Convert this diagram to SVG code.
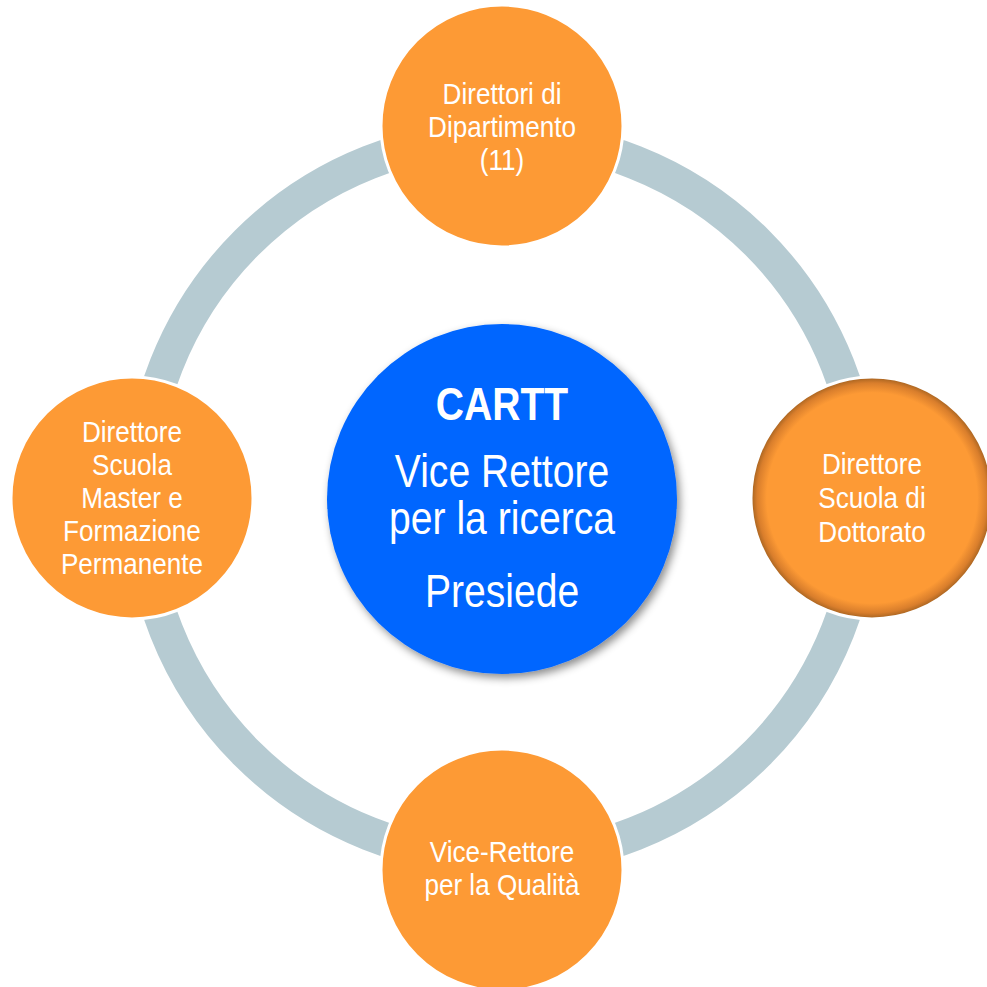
<svg xmlns="http://www.w3.org/2000/svg" width="987" height="987" viewBox="0 0 987 987">
  <defs>
    <style>
      .ring { fill: none; stroke: #B6CBD2; stroke-width: 34; }
      .orange { fill: #FD9A35; stroke: #FFFFFF; stroke-width: 3; }
      .lbl { font-family: "Liberation Sans", Arial, sans-serif; fill: #FFFFFF; text-anchor: middle; }
      .small { font-size: 30px; }
      .big { font-size: 46px; }
      .bold { font-weight: bold; }
    </style>
    <radialGradient id="innerShadow" cx="0.5" cy="0.5" r="0.5">
      <stop offset="0" stop-color="#FD9A35"/>
      <stop offset="0.87" stop-color="#FD9A35"/>
      <stop offset="0.95" stop-color="#D97E2C"/>
      <stop offset="1" stop-color="#A0601F"/>
    </radialGradient>
    <filter id="shadow" x="-20%" y="-20%" width="140%" height="140%">
      <feDropShadow dx="3" dy="4" stdDeviation="4" flood-color="#000000" flood-opacity="0.45"/>
    </filter>
  </defs>
  <rect width="987" height="987" fill="#FFFFFF"/>

  <g id="connectors">
    <path class="ring" d="M 502 137 A 361 361 0 0 1 863 498"/>
    <path class="ring" d="M 863 498 A 361 361 0 0 1 502 859"/>
    <path class="ring" d="M 502 859 A 361 361 0 0 1 141 498"/>
    <path class="ring" d="M 141 498 A 361 361 0 0 1 502 137"/>
  </g>

  <g id="node-center">
    <circle cx="502" cy="499" r="175" fill="#0066FF" filter="url(#shadow)"/>
    <g transform="translate(502 0) scale(0.85 1)">
      <text class="lbl big bold" x="0" y="420">CARTT</text>
      <text class="lbl big" x="0" y="487">Vice Rettore</text>
      <text class="lbl big" x="0" y="534">per la ricerca</text>
      <text class="lbl big" x="0" y="607">Presiede</text>
    </g>
  </g>

  <g id="node-top">
    <circle class="orange" cx="502" cy="126" r="121"/>
    <g transform="translate(502 0) scale(0.87 1)">
      <text class="lbl small" x="0" y="104">Direttori di</text>
      <text class="lbl small" x="0" y="137">Dipartimento</text>
      <text class="lbl small" x="0" y="170">(11)</text>
    </g>
  </g>

  <g id="node-right">
    <circle cx="872" cy="498" r="121" fill="url(#innerShadow)" stroke="#FFFFFF" stroke-width="3"/>
    <g transform="translate(872 0) scale(0.87 1)">
      <text class="lbl small" x="0" y="474">Direttore</text>
      <text class="lbl small" x="0" y="508">Scuola di</text>
      <text class="lbl small" x="0" y="542">Dottorato</text>
    </g>
  </g>

  <g id="node-bottom">
    <circle class="orange" cx="502" cy="870" r="121"/>
    <g transform="translate(502 0) scale(0.87 1)">
      <text class="lbl small" x="0" y="862">Vice-Rettore</text>
      <text class="lbl small" x="0" y="895">per la Qualità</text>
    </g>
  </g>

  <g id="node-left">
    <circle class="orange" cx="132" cy="498" r="121"/>
    <g transform="translate(132 0) scale(0.87 1)">
      <text class="lbl small" x="0" y="442">Direttore</text>
      <text class="lbl small" x="0" y="475">Scuola</text>
      <text class="lbl small" x="0" y="508">Master e</text>
      <text class="lbl small" x="0" y="541">Formazione</text>
      <text class="lbl small" x="0" y="574">Permanente</text>
    </g>
  </g>
</svg>
